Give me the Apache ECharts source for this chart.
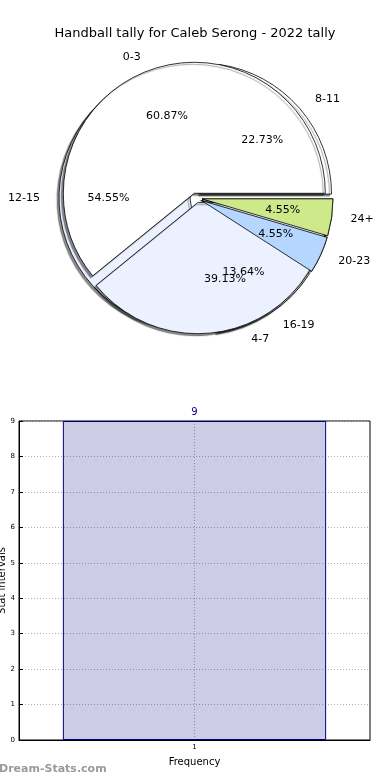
<!DOCTYPE html>
<html>
<head>
<meta charset="utf-8">
<script src="https://cdn.jsdelivr.net/npm/echarts@6/dist/echarts.min.js"></script>
<style>html,body{margin:0;padding:0;background:#fff}#c{width:390px;height:780px}</style>
</head>
<body>
<div id="c"></div>
<script>
// ---- data ----
const titleText = 'Handball tally for Caleb Serong - 2022 tally';
const pieACategories = ['0-3', '4-7'];
const pieAValues = [14, 9];
const pieBCategories = ['8-11', '12-15', '16-19', '20-23', '24+'];
const pieBValues = [5, 12, 3, 1, 1];
const barCategories = ['1'];
const barValues = [9];
const yMin = 0, yMax = 9, yInterval = 1;
const xAxisName = 'Frequency';
const yAxisName = 'Stat intervals';
const watermark = 'Dream-Stats.com';

// ---- styles ----
const FONT = 'DejaVu Sans';
const pieAColors = ['#ffffff', '#ebf1ff'];
const pieBColors = ['#ffffff', '#ebf1ff', '#ebf1ff', '#b4d6ff', '#cde98a'];
const CENTER = [196, 198];
const R = 131;
const shadow = { shadowColor: 'rgba(0,0,0,0.45)', shadowOffsetX: -2, shadowOffsetY: 2, shadowBlur: 1 };

function sumOf(arr) { return arr.reduce((a, b) => a + b, 0); }
function pctFormatter(vals) {
  const total = sumOf(vals);
  return p => (p.value / total * 100).toFixed(2) + '%';
}
function pieData(cats, vals, styleFn) {
  return cats.map((c, i) => ({ name: c, value: vals[i], selected: true, itemStyle: styleFn(i) }));
}
const pieBase = {
  type: 'pie', center: CENTER, startAngle: 0, clockwise: false,
  selectedMode: 'multiple', avoidLabelOverlap: false, silent: true, animation: false,
  emphasis: { disabled: true }, labelLayout: { hideOverlap: false }
};
const nameLabel = { show: true, position: 'outside', formatter: '{b}', color: '#000', fontFamily: FONT, fontSize: 11 };
function pctLabel(vals) {
  return { show: true, position: 'inside', formatter: pctFormatter(vals), color: '#000', fontFamily: FONT, fontSize: 11 };
}

const series = [
  Object.assign({}, pieBase, {
    z: 1, radius: R, selectedOffset: 6,
    data: pieData(pieBCategories, pieBValues, i => Object.assign({ color: pieBColors[i], borderColor: '#000', borderWidth: 0.8 }, shadow)),
    label: nameLabel, labelLine: { show: false, length: 14, length2: 0 }
  }),
  Object.assign({}, pieBase, {
    z: 2, radius: R, selectedOffset: 5,
    data: pieData(pieACategories, pieAValues, i => Object.assign({ color: pieAColors[i], borderColor: '#000', borderWidth: 0.8 }, shadow)),
    label: nameLabel, labelLine: { show: false, length: 14, length2: 0 }
  }),
  Object.assign({}, pieBase, {
    z: 3, radius: R, selectedOffset: 6,
    data: pieData(pieBCategories, pieBValues, i => i < 3
      ? { color: 'rgba(0,0,0,0)', borderWidth: 0 }
      : { color: pieBColors[i], borderColor: '#000', borderWidth: 0.8 }),
    label: { show: false }, labelLine: { show: false }
  }),
  Object.assign({}, pieBase, {
    z: 4, radius: R * 1.2, selectedOffset: 5,
    data: pieData(pieACategories, pieAValues, () => ({ color: 'rgba(0,0,0,0)', borderWidth: 0 })),
    label: pctLabel(pieAValues), labelLine: { show: false }
  }),
  Object.assign({}, pieBase, {
    z: 5, radius: R * 1.2, selectedOffset: 6,
    data: pieData(pieBCategories, pieBValues, () => ({ color: 'rgba(0,0,0,0)', borderWidth: 0 })),
    label: pctLabel(pieBValues), labelLine: { show: false }
  }),
  {
    type: 'bar', z: 5, silent: true, animation: false,
    data: barValues, barWidth: '75%',
    itemStyle: { color: 'rgba(0,0,128,0.2)', borderColor: '#000080', borderWidth: 1 },
    label: { show: true, position: 'top', distance: 4, color: '#000080', fontFamily: FONT, fontSize: 10 },
    markLine: {
      silent: true, symbol: 'none', label: { show: false },
      lineStyle: { color: '#aaaaaa', type: [1, 2], width: 1 },
      data: [{ xAxis: barCategories[0] }]
    }
  }
];

const chart = echarts.init(document.getElementById('c'), null, { renderer: 'canvas' });
chart.setOption({
  backgroundColor: '#fff',
  animation: false,
  title: {
    text: titleText, left: 'center', top: 22,
    textStyle: { fontFamily: FONT, fontSize: 13, fontWeight: 'normal', color: '#000' }
  },
  grid: { left: 19, right: 20, top: 421, bottom: 40, containLabel: false, outerBoundsMode: 'none', show: true, borderColor: '#000', borderWidth: 1, backgroundColor: 'transparent' },
  xAxis: {
    type: 'category', data: barCategories,
    name: xAxisName, nameLocation: 'middle', nameGap: 17, nameMoveOverlap: false,
    nameTextStyle: { fontFamily: FONT, fontSize: 10, color: '#000' },
    axisLine: { lineStyle: { color: '#000' } },
    axisTick: { alignWithLabel: true, inside: true, length: 4, lineStyle: { color: '#000' } },
    axisLabel: { fontFamily: FONT, fontSize: 7, color: '#000', margin: 4 },
    splitLine: { show: false }
  },
  yAxis: {
    type: 'value', min: yMin, max: yMax, interval: yInterval,
    name: yAxisName, nameLocation: 'middle', nameGap: 12, nameRotate: 90, nameMoveOverlap: false,
    nameTextStyle: { fontFamily: FONT, fontSize: 10, color: '#000' },
    axisLine: { show: true, lineStyle: { color: '#000' } },
    axisTick: { show: true, inside: true, length: 4, lineStyle: { color: '#000' } },
    axisLabel: { fontFamily: FONT, fontSize: 7, color: '#000', margin: 4 },
    splitLine: { show: true, lineStyle: { color: '#b0b0b0', type: [1, 2], width: 1 } }
  },
  graphic: [{
    type: 'text', left: -1, top: 764, silent: true,
    style: { text: watermark, fontFamily: FONT, fontSize: 11, fontWeight: 'bold', fill: '#9a9a9a' }
  }],
  series: series
});
</script>
</body>
</html>
